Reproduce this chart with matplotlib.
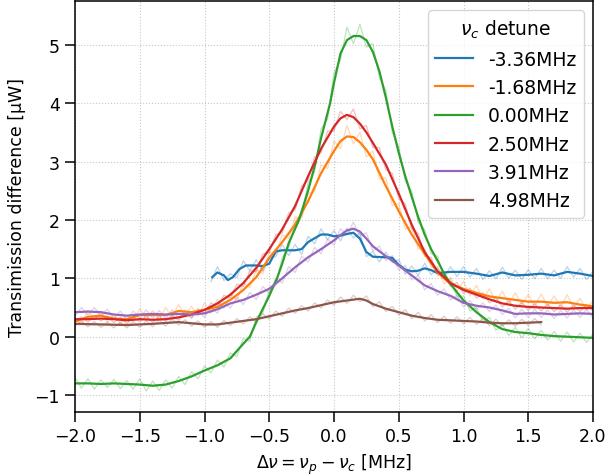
import matplotlib
matplotlib.use("Agg")
import matplotlib.pyplot as plt
import numpy as np

labels = ["-3.36MHz", "-1.68MHz", "0.00MHz", "2.50MHz", "3.91MHz", "4.98MHz"]
colors = ["#1f77b4", "#ff7f0e", "#2ca02c", "#d62728", "#9467bd", "#8c564b"]

# ---------------- smoothed curves ----------------
x_blue = [-0.94, -0.9, -0.85, -0.82, -0.78, -0.73, -0.68, -0.6, -0.55, -0.5, -0.45, -0.4, -0.3, -0.25,
          -0.2, -0.1, -0.05, 0.0, 0.05, 0.1, 0.15, 0.2, 0.25, 0.3, 0.4, 0.45, 0.5, 0.55, 0.6, 0.65,
          0.7, 0.75, 0.8, 0.9, 1.0, 1.1, 1.2, 1.3, 1.4, 1.5, 1.6, 1.7, 1.8, 1.9, 2.0]
y_blue = [1.02, 1.10, 1.05, 0.97, 1.02, 1.16, 1.22, 1.22, 1.21, 1.25, 1.46, 1.48, 1.48, 1.50,
          1.62, 1.75, 1.75, 1.72, 1.73, 1.76, 1.78, 1.68, 1.45, 1.37, 1.36, 1.35, 1.23, 1.15, 1.12, 1.13,
          1.17, 1.14, 1.09, 1.11, 1.11, 1.08, 1.04, 1.10, 1.05, 1.06, 1.08, 1.05, 1.11, 1.08, 1.04]

x_full = [-2.0, -1.9, -1.8, -1.7, -1.6, -1.5, -1.4, -1.3, -1.2, -1.1, -1.0, -0.9, -0.8, -0.7, -0.6,
          -0.5, -0.4, -0.3, -0.2, -0.1, 0.0, 0.05, 0.1, 0.15, 0.2, 0.25, 0.3, 0.4, 0.5, 0.6, 0.7,
          0.8, 0.9, 1.0, 1.1, 1.2, 1.3, 1.4, 1.5, 1.6, 1.7, 1.8, 1.9, 2.0]
y_orange = [0.26, 0.34, 0.36, 0.31, 0.30, 0.37, 0.37, 0.37, 0.44, 0.42, 0.46, 0.51, 0.63, 0.80, 1.02,
            1.35, 1.62, 1.92, 2.32, 2.80, 3.18, 3.35, 3.43, 3.42, 3.33, 3.20, 3.04, 2.58, 2.15, 1.75, 1.42,
            1.10, 0.90, 0.82, 0.75, 0.69, 0.66, 0.63, 0.60, 0.60, 0.58, 0.59, 0.55, 0.52]
y_red = [0.30, 0.30, 0.31, 0.30, 0.28, 0.30, 0.29, 0.30, 0.33, 0.38, 0.46, 0.57, 0.72, 0.92, 1.18,
         1.50, 1.84, 2.24, 2.75, 3.22, 3.60, 3.74, 3.80, 3.76, 3.65, 3.50, 3.32, 2.95, 2.45, 1.92, 1.45,
         1.12, 0.92, 0.80, 0.72, 0.64, 0.57, 0.53, 0.51, 0.50, 0.49, 0.48, 0.49, 0.49]
y_purple = [0.42, 0.43, 0.42, 0.38, 0.36, 0.38, 0.39, 0.38, 0.39, 0.38, 0.40, 0.47, 0.57, 0.63, 0.72,
            0.82, 1.00, 1.19, 1.36, 1.50, 1.65, 1.74, 1.82, 1.85, 1.80, 1.68, 1.55, 1.38, 1.22, 1.05, 0.88,
            0.78, 0.70, 0.58, 0.53, 0.50, 0.45, 0.39, 0.40, 0.40, 0.38, 0.39, 0.40, 0.39]

x_green = [-2.0, -1.9, -1.8, -1.7, -1.6, -1.5, -1.4, -1.3, -1.2, -1.1, -1.0, -0.9, -0.8, -0.7, -0.65,
           -0.6, -0.5, -0.44, -0.4, -0.35, -0.3, -0.27, -0.2, -0.14, -0.1, -0.03, 0.0, 0.05, 0.1, 0.15,
           0.2, 0.25, 0.3, 0.35, 0.4, 0.45, 0.5, 0.55, 0.6, 0.65, 0.7, 0.75, 0.8, 0.85, 0.9, 1.0,
           1.1, 1.2, 1.3, 1.4, 1.5, 1.6, 1.7, 1.8, 1.9, 2.0]
y_green = [-0.80, -0.80, -0.81, -0.80, -0.81, -0.82, -0.84, -0.82, -0.76, -0.68, -0.58, -0.49, -0.37, -0.12, 0.0,
           0.25, 0.70, 1.0, 1.25, 1.60, 1.85, 2.0, 2.50, 3.0, 3.40, 4.0, 4.35, 4.85, 5.08, 5.15,
           5.15, 5.08, 4.88, 4.55, 4.10, 3.60, 3.15, 2.75, 2.40, 2.05, 1.75, 1.50, 1.30, 1.08, 0.90, 0.62,
           0.42, 0.25, 0.13, 0.08, 0.06, 0.03, 0.01, 0.00, -0.01, -0.02]

x_brown = [-2.0, -1.8, -1.6, -1.4, -1.2, -1.0, -0.9, -0.8, -0.7, -0.6, -0.5, -0.4, -0.3, -0.2, -0.1,
           0.0, 0.1, 0.2, 0.25, 0.3, 0.4, 0.5, 0.6, 0.7, 0.8, 0.9, 1.0, 1.1, 1.2, 1.3, 1.4, 1.5, 1.6]
y_brown = [0.22, 0.21, 0.20, 0.22, 0.25, 0.21, 0.21, 0.24, 0.27, 0.30, 0.35, 0.40, 0.45, 0.49, 0.54,
           0.59, 0.62, 0.65, 0.62, 0.56, 0.48, 0.42, 0.36, 0.32, 0.29, 0.28, 0.27, 0.26, 0.24, 0.23, 0.23, 0.24, 0.25]

# ---------------- raw (unsmoothed) traces, sampled every 0.05 MHz ----------------
raw_start_end = {"blue": (-0.95, 2.0), "full": (-2.0, 2.0), "brown": (-2.0, 1.6)}
raw_blue = [0.94, 1.20, 0.96, 1.08, 1.01, 1.30, 1.13, 1.32, 1.12, 1.34, 1.37, 1.58, 1.39, 1.58, 1.41,
            1.72, 1.59, 1.85, 1.66, 1.82, 1.64, 1.86, 1.69, 1.78, 1.37, 1.46, 1.28, 1.45, 1.27, 1.32,
            1.07, 1.21, 1.05, 1.26, 1.06, 1.18, 1.02, 1.20, 1.03, 1.20, 1.02, 1.17, 0.98, 1.13, 0.99,
            1.19, 1.00, 1.14, 0.98, 1.15, 0.99, 1.17, 0.99, 1.14, 1.00, 1.20, 1.02, 1.17, 0.98, 1.12]
raw_orange = [0.30, 0.22, 0.45, 0.30, 0.42, 0.25, 0.38, 0.22, 0.36, 0.28, 0.48, 0.30, 0.45, 0.29, 0.50,
              0.33, 0.55, 0.36, 0.52, 0.35, 0.58, 0.40, 0.64, 0.48, 0.75, 0.62, 0.92, 0.84, 1.15, 1.08,
              1.45, 1.40, 1.75, 1.68, 2.05, 2.02, 2.45, 2.48, 2.95, 2.88, 3.35, 3.22, 3.62, 3.30, 3.50,
              3.08, 3.18, 2.70, 2.72, 2.25, 2.28, 1.85, 1.88, 1.50, 1.52, 1.18, 1.20, 0.90, 1.02, 0.78,
              0.95, 0.70, 0.88, 0.64, 0.82, 0.60, 0.78, 0.56, 0.75, 0.55, 0.72, 0.52, 0.73, 0.52, 0.70,
              0.50, 0.72, 0.50, 0.66, 0.46, 0.62]
raw_green = [-0.70, -0.88, -0.72, -0.90, -0.74, -0.87, -0.73, -0.89, -0.75, -0.90, -0.72, -0.93, -0.76, -0.92,
             -0.74, -0.88, -0.68, -0.82, -0.60, -0.72, -0.50, -0.62, -0.40, -0.52, -0.28, -0.34, -0.03,
             -0.08, 0.34, 0.40, 0.80, 0.88, 1.36, 1.52, 1.97, 2.07, 2.64, 2.82, 3.56, 3.72, 4.52, 4.74,
             5.30, 5.02, 5.35, 4.96, 5.02, 4.44, 4.22, 3.50, 3.26, 2.66, 2.50, 1.96, 1.84, 1.42, 1.38,
             1.00, 0.98, 0.68, 0.70, 0.44, 0.50, 0.25, 0.33, 0.11, 0.21, 0.02, 0.16, -0.02, 0.14, -0.04,
             0.11, -0.06, 0.09, -0.08, 0.08, -0.09, 0.06, -0.10, 0.05]
raw_red = [0.26, 0.34, 0.25, 0.36, 0.27, 0.35, 0.24, 0.33, 0.22, 0.34, 0.25, 0.36, 0.24, 0.35, 0.26,
           0.37, 0.28, 0.41, 0.33, 0.48, 0.40, 0.58, 0.51, 0.71, 0.66, 0.90, 0.86, 1.13, 1.11, 1.42,
           1.44, 1.75, 1.78, 2.12, 2.17, 2.58, 2.68, 3.08, 3.15, 3.52, 3.52, 3.86, 3.72, 3.90, 3.56,
           3.62, 3.24, 3.24, 2.86, 2.80, 2.36, 2.28, 1.84, 1.77, 1.38, 1.36, 1.05, 1.09, 0.86, 0.93,
           0.74, 0.83, 0.66, 0.75, 0.58, 0.67, 0.51, 0.62, 0.47, 0.59, 0.45, 0.57, 0.44, 0.56, 0.43,
           0.55, 0.42, 0.54, 0.43, 0.55, 0.44]
raw_purple = [0.36, 0.50, 0.37, 0.50, 0.35, 0.47, 0.31, 0.44, 0.29, 0.44, 0.31, 0.46, 0.32, 0.45, 0.31,
              0.46, 0.32, 0.45, 0.31, 0.46, 0.33, 0.51, 0.40, 0.60, 0.49, 0.68, 0.55, 0.76, 0.64, 0.86,
              0.74, 1.00, 0.92, 1.20, 1.10, 1.38, 1.28, 1.53, 1.42, 1.67, 1.57, 1.85, 1.74, 1.96, 1.72,
              1.78, 1.47, 1.55, 1.30, 1.39, 1.14, 1.22, 0.97, 1.05, 0.80, 0.91, 0.71, 0.82, 0.63, 0.71,
              0.51, 0.62, 0.46, 0.58, 0.43, 0.54, 0.38, 0.49, 0.32, 0.47, 0.33, 0.47, 0.33, 0.46, 0.31,
              0.45, 0.32, 0.46, 0.33, 0.47, 0.32]
raw_brown = [0.18, 0.27, 0.17, 0.26, 0.16, 0.25, 0.15, 0.25, 0.15, 0.26, 0.16, 0.27, 0.17, 0.29, 0.18,
             0.30, 0.20, 0.29, 0.18, 0.27, 0.16, 0.26, 0.16, 0.28, 0.19, 0.31, 0.22, 0.34, 0.25, 0.39,
             0.30, 0.44, 0.35, 0.49, 0.40, 0.53, 0.44, 0.58, 0.49, 0.63, 0.54, 0.68, 0.57, 0.71, 0.60,
             0.70, 0.51, 0.60, 0.43, 0.52, 0.37, 0.46, 0.31, 0.42, 0.27, 0.38, 0.24, 0.35, 0.23, 0.34,
             0.22, 0.33, 0.21, 0.31, 0.19, 0.30, 0.18, 0.29, 0.18, 0.30, 0.19, 0.31, 0.20]

series = [(x_blue, y_blue), (x_full, y_orange), (x_green, y_green),
          (x_full, y_red), (x_full, y_purple), (x_brown, y_brown)]
raws = [("blue", raw_blue), ("full", raw_orange), ("full", raw_green),
        ("full", raw_red), ("full", raw_purple), ("brown", raw_brown)]

fig = plt.figure(figsize=(6.10, 4.77), dpi=100)
ax = fig.add_axes([75 / 610, 1 - 413 / 477, (593 - 75) / 610, (413 - 2) / 477])

for (key, vals), c in zip(raws, colors):
    a, b = raw_start_end[key]
    ax.plot(np.linspace(a, b, len(vals)), vals, color=c, lw=0.9, alpha=0.3)

for (xs, ys), lab, c in zip(series, labels, colors):
    ax.plot(xs, ys, color=c, lw=1.6, label=lab)

ax.set_xlim(-2.0, 2.0)
ax.set_ylim(-1.29, 5.75)
ax.set_xticks(np.arange(-2.0, 2.01, 0.5))
ax.set_yticks(np.arange(-1, 6, 1))
ax.grid(True, linestyle=":", color="#c8c8c8", lw=0.8)
ax.tick_params(labelsize=12.5, direction="out", length=7, width=1.1, pad=4)
for s in ax.spines.values():
    s.set_linewidth(1.1)
ax.set_xlabel(r"$\Delta\nu = \nu_p - \nu_c$ [MHz]", fontsize=12.5, labelpad=5)
ax.set_ylabel("Transimission difference [µW]", fontsize=12.5, labelpad=6)
leg = ax.legend(title=r"$\nu_c$ detune", loc="upper right", fontsize=13.5, title_fontsize=13.5,
                handlelength=2.0)
fig.savefig("out.png", dpi=100)
